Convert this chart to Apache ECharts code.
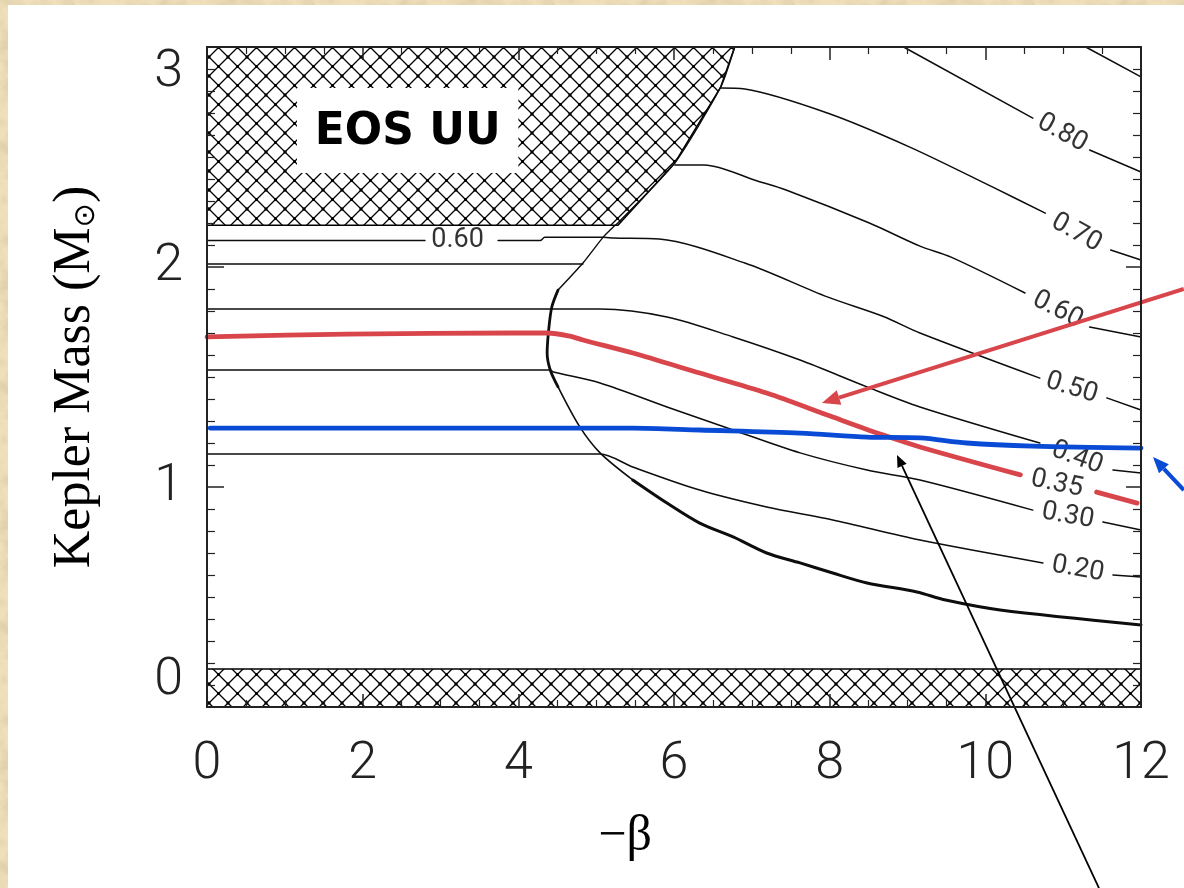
<!DOCTYPE html>
<html>
<head>
<meta charset="utf-8">
<title>EOS UU – Kepler mass vs −β</title>
<script src="https://cdn.jsdelivr.net/npm/echarts@6/dist/echarts.min.js"></script>
<style>
  html, body { margin: 0; padding: 0; width: 1184px; height: 888px; overflow: hidden; }
  body {
    background-color: #efe0bb;
    background-image: url("data:image/svg+xml,%3Csvg xmlns='http://www.w3.org/2000/svg' width='240' height='240'%3E%3Cfilter id='n'%3E%3CfeTurbulence type='fractalNoise' baseFrequency='0.05' numOctaves='4' seed='7'/%3E%3CfeColorMatrix values='0 0 0 0 0.62 0 0 0 0 0.52 0 0 0 0 0.32 1.3 0 0 0 -0.55'/%3E%3C/filter%3E%3Crect width='240' height='240' filter='url(%23n)'/%3E%3C/svg%3E");
  }
  #panel { position: absolute; left: 8px; top: 5px; right: 0; bottom: 0; background: #fff; }
  #chart { position: absolute; left: 0; top: 0; width: 1184px; height: 888px; }
</style>
</head>
<body>
<div id="panel"></div>
<div id="chart"></div>
<script>
// ---- axes ----
const xRange = [0, 12];
const yRange = [0, 3];
const xTicks = [0, 2, 4, 6, 8, 10, 12];
const yTicks = [0, 1, 2, 3];

// ---- excluded (hatched) regions ----
const hatchTop = [[0, 3.0], [6.78, 3.0], [6.60, 2.818], [6.01, 2.473], [5.28, 2.19], [0, 2.19]];
const hatchBottom = [[0, 0], [12, 0], [12, 0.173], [0, 0.173]];

// ---- limiting curve of the allowed region ----
const boundaryUpper = [[6.78, 3.0], [6.60, 2.818], [6.01, 2.473], [5.28, 2.2], [5.22, 2.182], [5.09, 2.136], [4.83, 2.018], [4.51, 1.895]];
const boundaryNose = [[4.51, 1.895], [4.43, 1.818], [4.39, 1.714], [4.37, 1.609], [4.41, 1.532], [4.51, 1.455]];
const boundaryMid = [[4.51, 1.455], [4.79, 1.273], [5.05, 1.155], [5.47, 1.032]];
const boundaryLower = [[5.47, 1.032], [5.91, 0.927], [6.33, 0.836], [6.76, 0.773], [7.19, 0.70], [7.62, 0.655], [8.04, 0.609], [8.48, 0.564], [9.12, 0.523], [9.49, 0.486], [10.19, 0.441], [12.0, 0.373]];

// ---- contour lines (each split where its label sits) ----
const c080 = [[[8.95, 3.0], [10.61, 2.677]], [[11.34, 2.532], [12, 2.432]]];
const cCorner = [[[11.29, 3.0], [12, 2.864]]];
const c070 = [[[6.60, 2.814], [6.91, 2.809], [7.97, 2.70], [9.03, 2.545], [10.09, 2.364], [10.77, 2.245]], [[11.61, 2.077], [12, 2.032]]];
const c060 = [[[6.01, 2.464], [6.39, 2.464], [7.07, 2.391], [7.44, 2.35], [8.51, 2.20], [9.16, 2.095], [9.56, 2.045], [10.51, 1.882]], [[11.34, 1.727], [12, 1.682]]];
const c050 = [[[0, 2.12], [2.80, 2.12]], [[3.74, 2.12], [4.28, 2.12], [4.34, 2.135], [5.09, 2.135], [5.23, 2.132], [5.81, 2.127], [6.91, 2.018], [7.97, 1.864], [8.69, 1.775], [9.16, 1.70], [10.70, 1.495]], [[11.56, 1.405], [12, 1.35]]];
const cShort = [[[0, 2.014], [4.83, 2.014]]];
const c040 = [[[0, 1.809], [5.05, 1.809], [5.91, 1.773], [6.76, 1.682], [7.62, 1.577], [8.48, 1.455], [9.16, 1.364], [10.70, 1.20]], [[11.64, 1.077], [12, 1.064]]];
const c030 = [[[0, 1.532], [4.41, 1.532], [4.45, 1.523], [5.05, 1.473], [5.91, 1.364], [6.76, 1.259], [7.62, 1.155], [8.48, 1.077], [9.16, 1.032], [10.61, 0.895]], [[11.51, 0.841], [12, 0.805]]];
const c020 = [[[0, 1.15], [5.05, 1.15], [5.47, 1.091], [6.33, 0.986], [7.19, 0.909], [8.04, 0.85], [9.16, 0.759], [10.74, 0.655]], [[11.64, 0.60], [12, 0.591]]];

// ---- highlighted curves ----
const red035 = [[[0, 1.682], [1.80, 1.695], [3.93, 1.70], [4.37, 1.70], [4.66, 1.686], [4.83, 1.668], [5.47, 1.609], [6.33, 1.518], [7.19, 1.427], [8.04, 1.318], [8.69, 1.236], [9.16, 1.182], [10.45, 1.055]], [[11.43, 0.977], [11.95, 0.927]]];
const blueCurve = [[0.04, 1.268], [4.54, 1.268], [5.47, 1.268], [6.33, 1.259], [7.62, 1.245], [8.48, 1.227], [9.16, 1.223], [9.76, 1.20], [10.61, 1.186], [12, 1.177]];

// ---- contour labels: text, x, y, angle ----
const contourLabels = [
  ['0.80', 10.99, 2.609, -29],
  ['0.70', 11.17, 2.155, -29],
  ['0.60', 10.93, 1.805, -27],
  ['0.50', 11.11, 1.45, -17],
  ['0.40', 11.18, 1.132, -20],
  ['0.35', 10.92, 1.014, -12],
  ['0.30', 11.06, 0.868, -10],
  ['0.20', 11.19, 0.627, -10],
  ['0.60', 3.22, 2.123, 0]
];

// ---- pointer arrows: from (x, y) to tip (x, y) ----
const arrowRed = [12.55, 1.90, 7.90, 1.382];
const arrowBlue = [12.55, 0.986, 12.154, 1.136];
const arrowBlack = [11.46, -0.823, 8.865, 1.145];

// ---- title box (x1, y1, x2, y2) ----
const titleBox = [1.156, 2.814, 4.0, 2.427];
const titleText = 'EOS UU';

const RED = '#d8464c';
const BLUE = '#0a4bd6';
const INK = '#0d0d0d';

function makeHatch(d) {
  const c = document.createElement('canvas');
  c.width = d; c.height = d;
  const g = c.getContext('2d');
  g.fillStyle = '#fff';
  g.fillRect(0, 0, d, d);
  g.strokeStyle = '#000';
  g.lineWidth = 1.3;
  g.beginPath();
  for (let k = -1; k <= 1; k++) {
    g.moveTo(k * d - d, -d); g.lineTo(k * d + 2 * d, 2 * d);
    g.moveTo(k * d + 2 * d, -d); g.lineTo(k * d - d, 2 * d);
  }
  g.stroke();
  g.fillStyle = '#000';
  const s = 3;
  g.fillRect(d / 2 - s / 2, d / 2 - s / 2, s, s);
  g.fillRect(-s / 2, -s / 2, s, s); g.fillRect(d - s / 2, -s / 2, s, s);
  g.fillRect(-s / 2, d - s / 2, s, s); g.fillRect(d - s / 2, d - s / 2, s, s);
  return c;
}
const hatchFill = { image: makeHatch(19), repeat: 'repeat' };

function polygonSeries(poly, z) {
  return {
    type: 'custom', z, silent: true, animation: false,
    data: [[poly[0][0], poly[0][1]]],
    renderItem: (params, api) => ({
      type: 'polygon',
      shape: { points: poly.map(p => api.coord(p)) },
      style: { fill: hatchFill, stroke: '#000', lineWidth: 1.6 }
    })
  };
}

function lineSeries(seg, color, width, z, smooth) {
  return {
    type: 'line', data: seg, symbol: 'none', showSymbol: false,
    smooth: smooth === undefined ? 0.3 : smooth,
    lineStyle: { color, width, cap: 'round', join: 'round' },
    z, silent: true, animation: false
  };
}

function arrowSeries(a, color, width, head) {
  return {
    type: 'custom', clip: false, z: 9, silent: true, animation: false,
    data: [a],
    renderItem: (params, api) => {
      const p0 = api.coord([api.value(0), api.value(1)]);
      const p1 = api.coord([api.value(2), api.value(3)]);
      const ang = Math.atan2(p1[1] - p0[1], p1[0] - p0[0]);
      const L = head, W = head * 0.42;
      const base = [p1[0] - L * Math.cos(ang), p1[1] - L * Math.sin(ang)];
      const left = [base[0] + W * Math.sin(ang), base[1] - W * Math.cos(ang)];
      const right = [base[0] - W * Math.sin(ang), base[1] + W * Math.cos(ang)];
      return {
        type: 'group',
        children: [
          { type: 'line', shape: { x1: p0[0], y1: p0[1], x2: base[0], y2: base[1] }, style: { stroke: color, lineWidth: width } },
          { type: 'polygon', shape: { points: [p1, left, right] }, style: { fill: color } }
        ]
      };
    }
  };
}

const series = [];
series.push(polygonSeries(hatchTop, 1));
series.push(polygonSeries(hatchBottom, 1));

series.push(lineSeries(boundaryUpper, INK, 1.4, 3, 0.2));
series.push(lineSeries(boundaryNose, INK, 2.8, 3, 0.3));
series.push(lineSeries(boundaryMid, INK, 1.6, 3, 0.3));
series.push(lineSeries(boundaryLower, INK, 3, 3, 0.3));

[c080, cCorner, c070, c060, c050, cShort, c040, c030, c020].forEach(c =>
  c.forEach(seg => series.push(lineSeries(seg, INK, 1.5, 3))));

red035.forEach(seg => series.push(lineSeries(seg, RED, 4.8, 5)));
series.push(lineSeries(blueCurve, BLUE, 4.8, 6));

series.push({
  type: 'scatter', symbolSize: 1, z: 4, silent: true, animation: false,
  itemStyle: { color: 'rgba(0,0,0,0)' },
  data: contourLabels.map(([t, x, y, r]) => ({ value: [x, y], name: t, label: { rotate: r } })),
  label: {
    show: true, position: 'inside', formatter: p => p.name,
    fontFamily: 'Roboto, "DejaVu Sans", sans-serif', fontWeight: 400, fontSize: 27, color: '#000'
  }
});

series.push({
  type: 'custom', z: 7, silent: true, animation: false,
  data: [titleBox],
  renderItem: (params, api) => {
    const a = api.coord([api.value(0), api.value(1)]);
    const b = api.coord([api.value(2), api.value(3)]);
    return {
      type: 'group',
      children: [
        { type: 'rect', shape: { x: a[0], y: a[1], width: b[0] - a[0], height: b[1] - a[1] }, style: { fill: '#fff' } },
        { type: 'text', style: { text: titleText, x: (a[0] + b[0]) / 2, y: (a[1] + b[1]) / 2 + 2, align: 'center', verticalAlign: 'middle', font: 'bold 44px "Comic Sans MS", "DejaVu Sans", sans-serif', fill: '#000' } }
      ]
    };
  }
});

series.push(arrowSeries(arrowRed, RED, 4, 18));
series.push(arrowSeries(arrowBlue, BLUE, 4, 16));
series.push(arrowSeries(arrowBlack, '#000', 1.8, 12));

const tickFont = { fontFamily: 'Roboto, "DejaVu Sans", sans-serif', fontWeight: 300, fontSize: 52, color: '#222' };
const axisBase = {
  type: 'value',
  axisLine: { show: true, onZero: false, lineStyle: { color: '#222', width: 2 } },
  splitLine: { show: false },
  minorSplitLine: { show: false },
  z: 10
};

const option = {
  animation: false,
  backgroundColor: 'transparent',
  grid: { left: 207, top: 47, width: 934, height: 660, containLabel: false, outerBoundsMode: 'none' },
  xAxis: [
    Object.assign({}, axisBase, {
      position: 'bottom', min: xRange[0], max: xRange[1], interval: 2,
      axisTick: { show: true, inside: true, length: 13, lineStyle: { color: '#222', width: 1.5 } },
      minorTick: { show: true, splitNumber: 4, length: 7, lineStyle: { color: '#222', width: 1.2 } },
      axisLabel: Object.assign({ margin: 32, formatter: v => xTicks.includes(v) ? String(v) : '' }, tickFont),
      name: '\u2212\u03b2', nameLocation: 'middle', nameGap: 105,
      nameTextStyle: { fontFamily: '"Liberation Serif", "Times New Roman", serif', fontSize: 50, color: '#000', padding: [0, 98, 0, 0] }
    }),
    Object.assign({}, axisBase, {
      position: 'top', min: xRange[0], max: xRange[1], interval: 2,
      axisTick: { show: true, inside: true, length: 13, lineStyle: { color: '#222', width: 1.5 } },
      minorTick: { show: true, splitNumber: 4, length: 7, lineStyle: { color: '#222', width: 1.2 } },
      axisLabel: { show: false }
    })
  ],
  yAxis: [
    Object.assign({}, axisBase, {
      position: 'left', min: yRange[0], max: yRange[1], interval: 1,
      axisTick: { show: true, inside: true, length: 17, lineStyle: { color: '#222', width: 1.5 } },
      minorTick: { show: true, splitNumber: 10, length: 8, lineStyle: { color: '#222', width: 1.2 } },
      axisLabel: Object.assign({
        margin: 24, formatter: v => yTicks.includes(v) ? String(v) : '',
        verticalAlignMinLabel: 'bottom', verticalAlignMaxLabel: 'top'
      }, tickFont),
      name: '{a|Kepler Mass (M}{b|\u2299}{a|)}', nameLocation: 'middle', nameRotate: 90, nameGap: 106,
      nameTextStyle: {
        rich: {
          a: { fontFamily: '"Liberation Serif", "Times New Roman", serif', fontSize: 52, lineHeight: 60, color: '#000', verticalAlign: 'bottom' },
          b: { fontFamily: '"DejaVu Sans", sans-serif', fontSize: 29, lineHeight: 31, color: '#000', verticalAlign: 'bottom' }
        }
      }
    }),
    Object.assign({}, axisBase, {
      position: 'right', min: yRange[0], max: yRange[1], interval: 1,
      axisTick: { show: true, inside: true, length: 15, lineStyle: { color: '#222', width: 1.5 } },
      minorTick: { show: true, splitNumber: 10, length: 8, lineStyle: { color: '#222', width: 1.2 } },
      axisLabel: { show: false }
    })
  ],
  series
};

const chart = echarts.init(document.getElementById('chart'), null, { renderer: 'canvas' });
chart.setOption(option);
</script>
</body>
</html>
